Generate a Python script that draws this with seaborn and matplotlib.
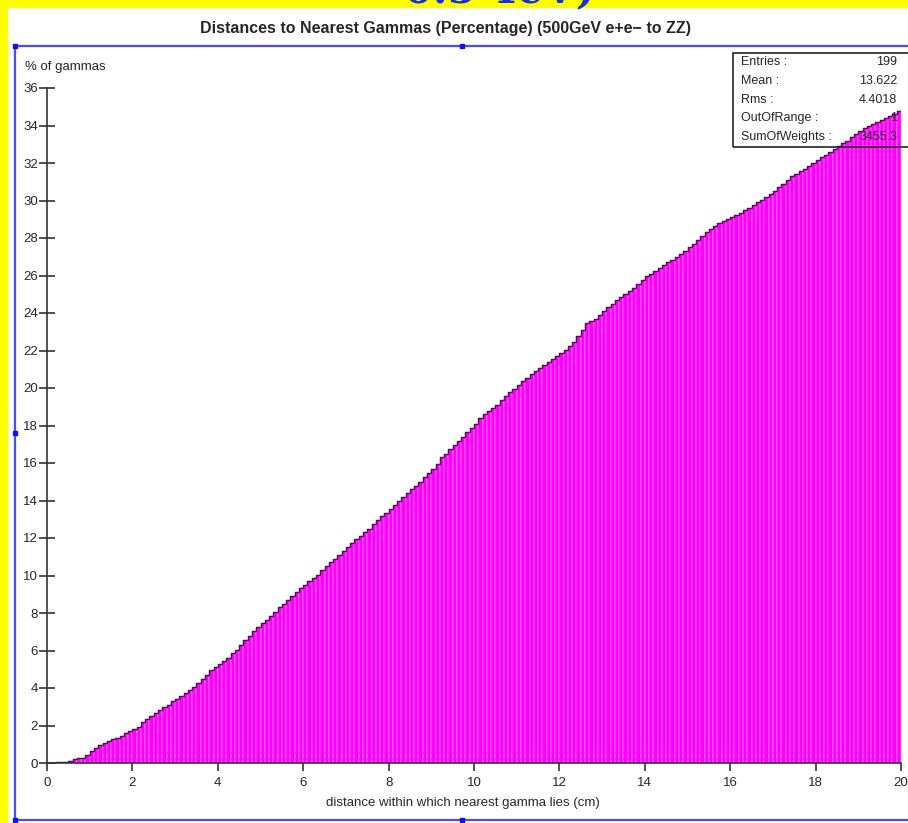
import numpy as np
import pandas as pd
import seaborn as sns
import matplotlib.pyplot as plt
from matplotlib.patches import Rectangle
from matplotlib.lines import Line2D

# histogram binning (200 bins of 0.1 cm)
x_min, x_max, n_bins = 0.0, 20.0, 200

# % of gammas per bin, 10 bins per row (one cm each)
pct = [
    0.02, 0.02, 0.03, 0.04, 0.08, 0.13, 0.21, 0.25, 0.27, 0.42,
    0.62, 0.80, 0.98, 1.05, 1.20, 1.26, 1.35, 1.45, 1.60, 1.72,
    1.82, 1.92, 2.20, 2.35, 2.50, 2.68, 2.82, 2.98, 3.12, 3.30,
    3.42, 3.60, 3.72, 3.90, 4.05, 4.25, 4.48, 4.70, 4.95, 5.10,
    5.30, 5.45, 5.62, 5.85, 6.05, 6.30, 6.55, 6.80, 7.05, 7.25,
    7.45, 7.65, 7.85, 8.05, 8.30, 8.50, 8.70, 8.90, 9.10, 9.35,
    9.50, 9.70, 9.85, 10.05, 10.30, 10.50, 10.70, 10.90, 11.10, 11.30,
    11.50, 11.75, 11.95, 12.10, 12.30, 12.50, 12.75, 12.95, 13.15, 13.35,
    13.55, 13.75, 13.95, 14.20, 14.40, 14.60, 14.80, 15.00, 15.25, 15.45,
    15.70, 15.95, 16.30, 16.50, 16.75, 16.95, 17.20, 17.40, 17.65, 17.85,
    18.10, 18.40, 18.60, 18.80, 18.95, 19.10, 19.35, 19.55, 19.80, 19.95,
    20.15, 20.35, 20.55, 20.75, 20.90, 21.05, 21.25, 21.40, 21.55, 21.70,
    21.85, 22.05, 22.25, 22.45, 22.75, 23.10, 23.45, 23.55, 23.70, 23.90,
    24.10, 24.30, 24.50, 24.70, 24.85, 25.00, 25.20, 25.35, 25.55, 25.75,
    25.95, 26.10, 26.25, 26.40, 26.55, 26.70, 26.85, 27.00, 27.15, 27.30,
    27.50, 27.70, 27.90, 28.10, 28.30, 28.50, 28.65, 28.80, 28.90, 29.00,
    29.10, 29.25, 29.35, 29.50, 29.60, 29.75, 29.90, 30.05, 30.20, 30.35,
    30.50, 30.70, 30.90, 31.10, 31.30, 31.40, 31.55, 31.70, 31.85, 32.00,
    32.15, 32.30, 32.45, 32.60, 32.75, 32.90, 33.05, 33.20, 33.40, 33.55,
    33.70, 33.85, 34.00, 34.10, 34.20, 34.30, 34.40, 34.50, 34.60, 34.80,
]

stat_names = ["Entries :", "Mean :", "Rms :", "OutOfRange :", "SumOfWeights :"]
stat_values = ["199", "13.622", "4.4018", "1", "3455.3"]

title = "Distances to Nearest Gammas (Percentage) (500GeV e+e\u2212 to ZZ)"
x_label = "distance within which nearest gamma lies (cm)"
y_label = "% of gammas"

W, H = 908, 823

sns.set_style("ticks")
plt.rcParams["font.family"] = ["Liberation Sans", "DejaVu Sans"]

fig = plt.figure(figsize=(W / 100, H / 100), dpi=100)
fig.patch.set_facecolor("white")


def fx(px):
    return px / W


def fy(py):
    return 1 - py / H


# slide frame (yellow strips) and the slide heading cut off at the top
fig.add_artist(Rectangle((0, 0), fx(7), 1, transform=fig.transFigure,
                         color="#ffff00", zorder=0))
fig.add_artist(Rectangle((0, fy(7)), 1, fy(0) - fy(7), transform=fig.transFigure,
                         color="#ffff00", zorder=0))
fig.text(fx(500), fy(3), "0.5 TeV)", color="#1a2fd0", fontsize=30,
         family="DejaVu Serif", weight="bold", ha="center", va="baseline")

# blue selection frame with its handles
blue = "#4a4aff"
for xs, ys in [([15, 15], [46, 820]), ([15, W], [46, 46]), ([15, W], [820, 820])]:
    fig.add_artist(Line2D([fx(v) for v in xs], [fy(v) for v in ys],
                          transform=fig.transFigure, color=blue, lw=1.6))
for hx, hy in [(15, 46), (462, 46), (15, 433), (15, 820), (462, 820)]:
    fig.add_artist(Line2D([fx(hx)], [fy(hy)], transform=fig.transFigure,
                          marker="s", markersize=3.5, color="#1010ff", lw=0))

ax = fig.add_axes([fx(47), fy(763), fx(901) - fx(47), fy(88) - fy(763)])
ax.patch.set_alpha(0)

edges = np.linspace(x_min, x_max, n_bins + 1)
df = pd.DataFrame({"center": (edges[:-1] + edges[1:]) / 2, "pct": pct})

sns.histplot(data=df, x="center", weights="pct", bins=n_bins,
             binrange=(x_min, x_max), color="#ff00ff", edgecolor="#ffa8ff",
             linewidth=0.35, alpha=1, ax=ax)
sns.histplot(data=df, x="center", weights="pct", bins=n_bins,
             binrange=(x_min, x_max), element="step", fill=False,
             color="#4a144a", linewidth=1.0, ax=ax)

ax.set_xlim(x_min, x_max)
ax.set_ylim(0, 36)
ax.set_xticks(np.arange(0, 21, 2))
ax.set_yticks(np.arange(0, 37, 2))
ax.set_xlabel("")
ax.set_ylabel("")
sns.despine(ax=ax, top=True, right=True)
for side in ["left", "bottom"]:
    ax.spines[side].set_color("#333333")
    ax.spines[side].set_linewidth(1.2)
ax.tick_params(axis="y", direction="inout", length=11, width=1.2,
               color="#333333", labelsize=9.5, pad=1)
ax.tick_params(axis="x", direction="out", length=6, width=1.2,
               color="#333333", labelsize=9.5, pad=4)

fig.text(fx(445), fy(28), title, ha="center", va="center",
         fontsize=11.5, weight="bold")
fig.text(fx(463), fy(803), x_label, ha="center", va="center", fontsize=9.5)
fig.text(fx(25), fy(67), y_label, ha="left", va="center", fontsize=9.5)

# stats box (no fill, bars show through)
fig.add_artist(Rectangle((fx(733), fy(147)), fx(W + 5) - fx(733), fy(53) - fy(147),
                         transform=fig.transFigure, fill=False,
                         edgecolor="#222222", lw=1.2, zorder=5))
for i, (name, val) in enumerate(zip(stat_names, stat_values)):
    py = 62 + i * 18.8
    fig.text(fx(741), fy(py), name, ha="left", va="center", fontsize=9,
             zorder=6)
    fig.text(fx(897), fy(py), val, ha="right", va="center", fontsize=9,
             zorder=6)

fig.savefig("out.png", dpi=100)
